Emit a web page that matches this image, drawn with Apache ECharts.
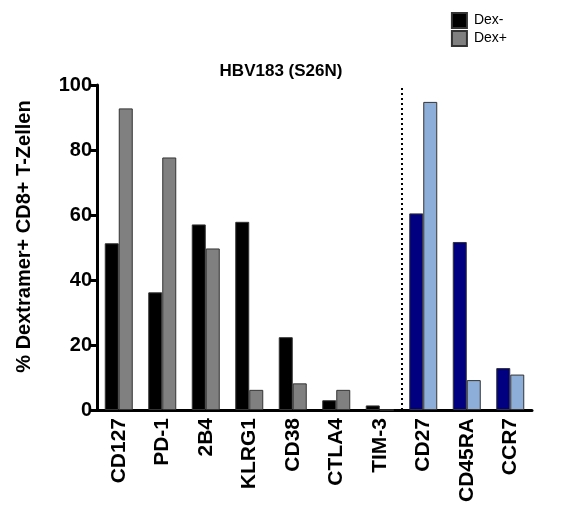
<!DOCTYPE html>
<html>
<head>
<meta charset="utf-8">
<script src="https://cdn.jsdelivr.net/npm/echarts@6/dist/echarts.min.js"></script>
<style>html,body{margin:0;padding:0;background:#fff;}#c{width:562px;height:508px;}</style>
</head>
<body>
<div id="c"></div>
<script>
var categories = ['CD127', 'PD-1', '2B4', 'KLRG1', 'CD38', 'CTLA4', 'TIM-3', 'CD27', 'CD45RA', 'CCR7'];
var dexNeg = [51.3, 36.2, 57.1, 57.9, 22.4, 3.0, 1.4, 60.5, 51.7, 12.9];
var dexPos = [92.8, 77.7, 49.7, 6.2, 8.2, 6.2, 0, 94.8, 9.2, 10.9];
var yTicks = [0, 20, 40, 60, 80, 100];
var splitAfter = 7; // categories from this index use blue colours

var FONT = 'Liberation Sans, Arial, sans-serif';
var negColors = ['#000000', '#000080'];
var posColors = ['#808080', '#8DAED8'];

function styled(values, colors) {
  return values.map(function (v, i) {
    return { value: v, itemStyle: { color: colors[i < splitAfter ? 0 : 1] } };
  });
}

var chart = echarts.init(document.getElementById('c'), null, { renderer: 'canvas' });
chart.setOption({
  animation: false,
  backgroundColor: '#fff',
  title: {
    text: 'HBV183 (S26N)',
    left: 'center',
    top: 58,
    textStyle: { fontFamily: FONT, fontWeight: 'bold', fontSize: 17, color: '#000' }
  },
  legend: {
    orient: 'vertical',
    right: 50,
    top: 7,
    itemWidth: 15,
    itemHeight: 15,
    itemGap: 1,
    icon: 'rect',
    textStyle: { fontFamily: FONT, fontSize: 14, color: '#000', padding: [0, 0, 0, 2] },
    data: ['Dex-', 'Dex+']
  },
  grid: { left: 97, right: 30, top: 85, bottom: 98, containLabel: false },
  xAxis: [{
    type: 'category',
    data: categories,
    axisLine: { lineStyle: { color: '#000', width: 3 } },
    axisTick: { alignWithLabel: true, length: 5, lineStyle: { color: '#000', width: 3 } },
    axisLabel: { rotate: 90, margin: 8, fontFamily: FONT, fontWeight: 'bold', fontSize: 21, color: '#000' }
  }, {
    type: 'value',
    min: 0,
    max: categories.length,
    show: false
  }],
  yAxis: {
    type: 'value',
    min: 0,
    max: 100,
    interval: 20,
    name: '% Dextramer+ CD8+ T-Zellen',
    nameLocation: 'middle',
    nameGap: 63,
    nameTextStyle: { fontFamily: FONT, fontWeight: 'bold', fontSize: 20, color: '#000', padding: [0, 0, 0, 22] },
    splitLine: { show: false },
    axisLine: { show: true, lineStyle: { color: '#000', width: 3 } },
    axisTick: { show: true, length: 6, lineStyle: { color: '#000', width: 3 } },
    axisLabel: {
      margin: 5, fontFamily: FONT, fontWeight: 'bold', fontSize: 20, color: '#000',
      formatter: function (v) { return yTicks.indexOf(v) >= 0 ? String(v) : ''; }
    }
  },
  series: [{
    name: 'Dex-',
    type: 'bar',
    barWidth: 14,
    barGap: '0%',
    itemStyle: { color: '#000', borderColor: '#333', borderWidth: 1 },
    data: styled(dexNeg, negColors)
  }, {
    name: 'Dex+',
    type: 'bar',
    barWidth: 14,
    barGap: '0%',
    itemStyle: { color: '#808080', borderColor: '#333', borderWidth: 1 },
    data: styled(dexPos, posColors)
  }, {
    name: 'divider',
    type: 'line',
    xAxisIndex: 1,
    data: [],
    markLine: {
      silent: true,
      symbol: 'none',
      label: { show: false },
      lineStyle: { color: '#000', type: [2, 3], width: 2 },
      data: [{ xAxis: splitAfter }]
    }
  }]
});
</script>
</body>
</html>
